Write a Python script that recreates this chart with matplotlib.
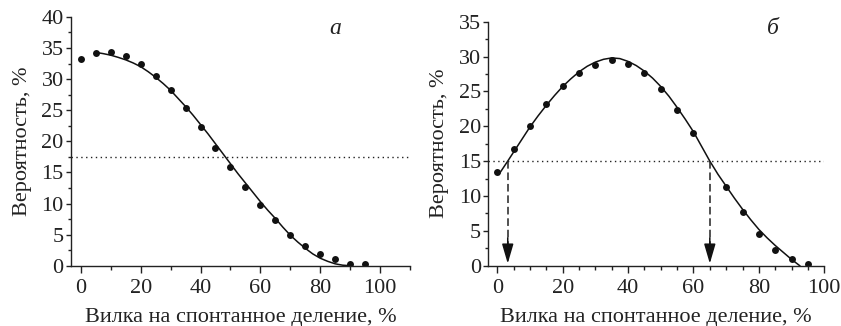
import numpy as np
import matplotlib.pyplot as plt
from matplotlib.ticker import MultipleLocator

plt.rcParams['font.family'] = ['Liberation Serif', 'DejaVu Serif']
plt.rcParams['text.color'] = '#222222'
plt.rcParams['axes.labelcolor'] = '#222222'
plt.rcParams['xtick.color'] = '#222222'
plt.rcParams['ytick.color'] = '#222222'

# panel a: measured points
xa_pts = [0, 5, 10, 15, 20, 25, 30, 35, 40, 45, 50, 55, 60, 65, 70, 75, 80, 85, 90, 95]
ya_pts = [33.2, 34.2, 34.4, 33.8, 32.4, 30.5, 28.2, 25.3, 22.3, 19.0,
          15.8, 12.6, 9.8, 7.4, 5.0, 3.2, 1.8, 1.0, 0.3, 0.3]
# panel a: fitted curve
xa_fit = [5, 7.5, 10, 12.5, 15, 17.5, 20, 22.5, 25, 27.5, 30, 32.5, 35, 37.5,
          40, 42.5, 45, 47.5, 50, 52.5, 55, 57.5, 60, 62.5, 65, 67.5, 70,
          72.5, 75, 77.5, 80, 82.5, 85, 87.5, 90]
ya_fit = [34.3, 34.1, 33.85, 33.5, 33.1, 32.6, 32.0, 31.2, 30.3, 29.3, 28.2,
          26.9, 25.6, 24.2, 22.7, 21.2, 19.6, 18.0, 16.4, 14.8, 13.3, 11.8,
          10.3, 8.9, 7.6, 6.2, 4.9, 3.8, 2.8, 1.9, 1.2, 0.7, 0.3, 0.08, 0.0]
level_a = 17.5

# panel b: measured points
xb_pts = [0, 5, 10, 15, 20, 25, 30, 35, 40, 45, 50, 55, 60, 70, 75, 80, 85, 90, 95]
yb_pts = [13.5, 16.7, 20.0, 23.2, 25.8, 27.6, 28.8, 29.5, 28.9, 27.7,
          25.3, 22.3, 19.0, 11.3, 7.65, 4.5, 2.3, 0.95, 0.2]
# panel b: fitted curve
xb_fit = [0.5, 3.2, 5, 7.5, 10, 12.5, 15, 17.5, 20, 22.5, 25, 27.5, 30, 32.5,
          35, 37.5, 40, 42.5, 45, 47.5, 50, 52.5, 55, 57.5, 60, 62.5, 65,
          67.5, 70, 72.5, 75, 77.5, 80, 82.5, 85, 87.5, 90, 92.5]
yb_fit = [13.1, 15.0, 16.3, 18.1, 19.9, 21.5, 23.0, 24.4, 25.7, 26.8, 27.8,
          28.6, 29.2, 29.6, 29.8, 29.7, 29.3, 28.7, 27.9, 26.9, 25.7, 24.3,
          22.7, 21.0, 19.2, 17.1, 15.0, 13.1, 11.4, 9.7, 8.1, 6.6, 5.2, 4.0,
          2.9, 1.9, 0.9, 0.0]
level_b = 15.0
arrows_b = [3.2, 65]

xlabel = 'Вилка на спонтанное деление, %'
ylabel = 'Вероятность, %'

fig = plt.figure(figsize=(8.41, 3.26), dpi=100)
ax1 = fig.add_axes([0.0844, 0.185, 0.4031, 0.763])
ax2 = fig.add_axes([0.5806, 0.185, 0.3995, 0.7486])


def style(ax, xminor):
    for s in ['top', 'right']:
        ax.spines[s].set_visible(False)
    for s in ['left', 'bottom']:
        ax.spines[s].set_linewidth(1.0)
        ax.spines[s].set_color('#222222')
    ax.xaxis.set_major_locator(MultipleLocator(20))
    ax.xaxis.set_minor_locator(MultipleLocator(xminor))
    ax.yaxis.set_major_locator(MultipleLocator(5))
    ax.yaxis.set_minor_locator(MultipleLocator(2.5))
    ax.tick_params(axis='x', which='major', length=5, width=1.0, labelsize=16, pad=4.5)
    ax.tick_params(axis='x', which='minor', length=3, width=1.0)
    ax.tick_params(axis='y', which='major', length=3.3, width=1.0, labelsize=16, pad=2)
    ax.tick_params(axis='y', which='minor', length=2.2, width=1.0)
    ax.set_xlabel(xlabel, fontsize=16, labelpad=7)
    ax.set_ylabel(ylabel, fontsize=16, labelpad=7)


# panel a
ax1.plot(xa_fit, ya_fit, color='#111111', lw=1.1)
ax1.plot(xa_pts, ya_pts, 'o', color='#111111', ms=5, mec='none')
ax1.axhline(level_a, color='#222222', lw=1.0, ls=(0, (1, 2.5)))
ax1.set_xlim(-3.3, 110)
ax1.set_ylim(0, 40)
style(ax1, 10)
ax1.text(85, 38.2, 'а', fontsize=17, style='italic', ha='center', va='center')

# panel b
ax2.plot(xb_fit, yb_fit, color='#111111', lw=1.1)
ax2.plot(xb_pts, yb_pts, 'o', color='#111111', ms=5, mec='none')
ax2.axhline(level_b, color='#222222', lw=1.0, ls=(0, (1, 2.5)))
for xa in arrows_b:
    ax2.plot([xa, xa], [level_b, 2.5], color='#222222', lw=1.1, ls=(0, (5, 2.5)))
    ax2.annotate('', xy=(xa, 0.3), xytext=(xa, 4.0),
                 arrowprops=dict(arrowstyle='-|>,head_length=1.2,head_width=0.35',
                                 color='#111111', lw=1.1, shrinkA=0, shrinkB=0))
ax2.set_xlim(-2.75, 100)
ax2.set_ylim(0, 35)
style(ax2, 5)
ax2.text(84.3, 34.0, 'б', fontsize=17, style='italic', ha='center', va='center')

fig.savefig('out.png', dpi=100)
